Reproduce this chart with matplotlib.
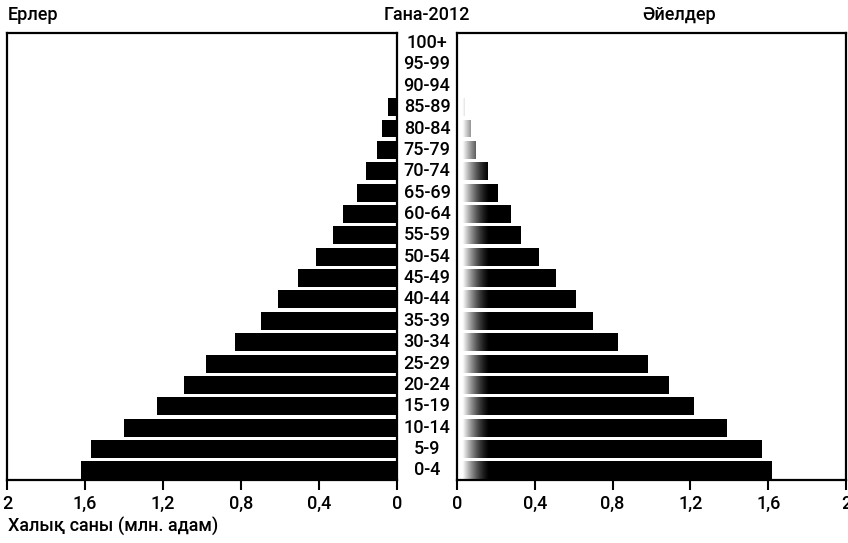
import numpy as np
import matplotlib
matplotlib.use("Agg")
import matplotlib.pyplot as plt

plt.rcParams['font.family'] = ['Roboto', 'DejaVu Sans']
plt.rcParams['font.weight'] = 'medium'

age_groups = ['0-4', '5-9', '10-14', '15-19', '20-24', '25-29', '30-34', '35-39',
              '40-44', '45-49', '50-54', '55-59', '60-64', '65-69', '70-74',
              '75-79', '80-84', '85-89', '90-94', '95-99', '100+']
males = [1.62, 1.57, 1.40, 1.23, 1.09, 0.98, 0.83, 0.70, 0.61, 0.51, 0.415,
         0.33, 0.277, 0.205, 0.16, 0.10, 0.077, 0.046, 0.004, 0.001, 0.0005]
females = [1.62, 1.57, 1.39, 1.22, 1.09, 0.98, 0.83, 0.70, 0.61, 0.51, 0.42,
           0.33, 0.28, 0.21, 0.16, 0.10, 0.07, 0.04, 0.01, 0.003, 0.001]
x_ticks = [0, 0.4, 0.8, 1.2, 1.6, 2]
x_ticklabels = ['0', '0,4', '0,8', '1,2', '1,6', '2']

W, H = 848, 543
fig = plt.figure(figsize=(W / 100, H / 100), dpi=100)
ax_m = fig.add_axes([7 / W, 63 / H, 390 / W, 447 / H])
ax_f = fig.add_axes([457 / W, 63 / H, 389 / W, 447 / H])

y = np.arange(len(age_groups))
ax_m.barh(y, males, height=0.84, color='black', zorder=1)
ax_f.barh(y, females, height=0.84, color='black', zorder=1)

# faded left end of the female bars (as in the printed original)
grad = np.ones((1, 200, 4))
xs = np.linspace(0, 0.22, 200)
grad[0, :, 3] = np.clip(1 - (xs - 0.03) / 0.14, 0, 1) ** 1.5
ax_f.imshow(grad, extent=[0, 0.22, -0.5, 20.5], aspect='auto', zorder=2,
            interpolation='bilinear')

for ax in (ax_m, ax_f):
    ax.set_xlim(0, 2)
    ax.set_ylim(-0.45, 20.47)
    ax.set_yticks([])
    ax.set_xticks(x_ticks)
    ax.set_xticklabels(x_ticklabels)
    ax.tick_params(axis='x', length=7, width=1.5, labelsize=13, pad=4)
    for s in ax.spines.values():
        s.set_linewidth(1.6)
        s.set_zorder(3)
ax_m.invert_xaxis()

for i, lab in enumerate(age_groups):
    ax_m.text((427 - 7) / 390, i, lab, transform=ax_m.get_yaxis_transform(),
              ha='center', va='center', fontsize=13, clip_on=False)

fig.text(8 / W, 1 - 15 / H, 'Ерлер', ha='left', va='center', fontsize=13)
fig.text(427 / W, 1 - 15 / H, 'Гана-2012', ha='center', va='center', fontsize=13)
fig.text(679 / W, 1 - 15 / H, 'Әйелдер', ha='center', va='center', fontsize=13)
fig.text(8 / W, 1 - 526 / H, 'Халық саны (млн. адам)', ha='left', va='center',
         fontsize=13)

fig.savefig('out.png', dpi=100)
